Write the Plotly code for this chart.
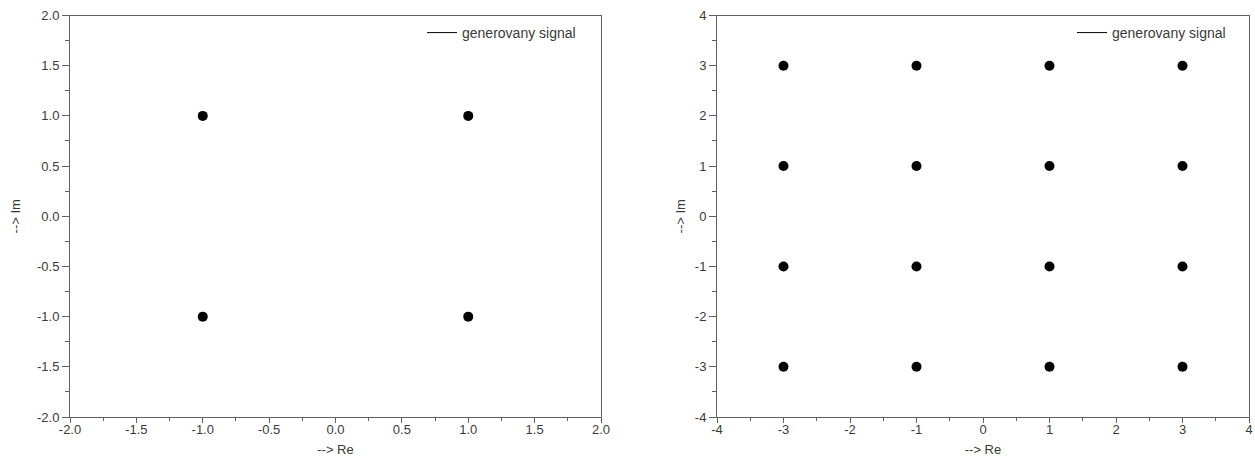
import plotly.graph_objects as go

# Data
qpsk_re = [-1, 1, -1, 1]
qpsk_im = [1, 1, -1, -1]
qam_re = [-3, -1, 1, 3, -3, -1, 1, 3, -3, -1, 1, 3, -3, -1, 1, 3]
qam_im = [3, 3, 3, 3, 1, 1, 1, 1, -1, -1, -1, -1, -3, -3, -3, -3]
ticks_left = [-2.0, -1.5, -1.0, -0.5, 0.0, 0.5, 1.0, 1.5, 2.0]
ticks_left_text = ["-2.0", "-1.5", "-1.0", "-0.5", "0.0", "0.5", "1.0", "1.5", "2.0"]
ticks_right = [-4, -3, -2, -1, 0, 1, 2, 3, 4]
ticks_right_text = ["-4", "-3", "-2", "-1", "0", "1", "2", "3", "4"]
legend_name = "generovany signal"
x_title = "--> Re"
y_title = "--> Im"

W, H = 1255, 462
fig = go.Figure()

# legend-only line traces
fig.add_trace(go.Scatter(x=[None], y=[None], mode="lines", name=legend_name,
                         line=dict(color="black", width=1), xaxis="x", yaxis="y",
                         legend="legend", showlegend=True))
fig.add_trace(go.Scatter(x=[None], y=[None], mode="lines", name=legend_name,
                         line=dict(color="black", width=1), xaxis="x2", yaxis="y2",
                         legend="legend2", showlegend=True))

fig.add_trace(go.Scatter(x=qpsk_re, y=qpsk_im, mode="markers",
                         marker=dict(color="black", size=10), showlegend=False,
                         xaxis="x", yaxis="y"))
fig.add_trace(go.Scatter(x=qam_re, y=qam_im, mode="markers",
                         marker=dict(color="black", size=10), showlegend=False,
                         xaxis="x2", yaxis="y2"))

axcol = "#606060"
FAM = "Liberation Sans, Arial, sans-serif"
fnt = dict(family=FAM, size=13, color="#3a3a3a")

y_dom = [1 - 417 / H, 1 - 15.5 / H]

def xaxis(dom, rng, tv, tt, mdt, anchor):
    return dict(domain=dom, range=rng, tickmode="array", tickvals=tv, ticktext=tt,
                showgrid=False, zeroline=False, showline=True, linecolor=axcol,
                linewidth=1, mirror=True, ticks="outside", ticklen=5, tickcolor=axcol,
                tickfont=fnt, anchor=anchor, automargin=False, ticklabelstandoff=-5,
                minor=dict(ticks="outside", ticklen=3, dtick=mdt, tick0=rng[0],
                           tickcolor=axcol, showgrid=False),
                title=dict(text=x_title, font=fnt, standoff=9))

def yaxis(rng, tv, tt, mdt, anchor, so):
    return dict(domain=y_dom, range=rng, tickmode="array", tickvals=tv, ticktext=tt,
                showgrid=False, zeroline=False, showline=True, linecolor=axcol,
                linewidth=1, mirror=True, ticks="outside", ticklen=7, tickcolor=axcol,
                tickfont=fnt, anchor=anchor, automargin=False,
                minor=dict(ticks="outside", ticklen=4, dtick=mdt, tick0=rng[0],
                           tickcolor=axcol, showgrid=False),
                title=dict(text=y_title, font=fnt, standoff=so))

lfont = dict(family=FAM, size=14, color="#3a3a3a")
fig.update_layout(
    width=W, height=H,
    margin=dict(l=0, r=0, t=0, b=0),
    paper_bgcolor="white", plot_bgcolor="white",
    xaxis=xaxis([70 / W, 601 / W], [-2, 2], ticks_left, ticks_left_text, 0.25, "y"),
    yaxis=yaxis([-2, 2], ticks_left, ticks_left_text, 0.25, "x", 13),
    xaxis2=xaxis([717 / W, 1249 / W], [-4, 4], ticks_right, ticks_right_text, 0.5, "y2"),
    yaxis2=yaxis([-4, 4], ticks_right, ticks_right_text, 0.5, "x2", 6),
    legend=dict(x=422 / W, y=1 - 17 / H, xanchor="left", yanchor="top",
                bgcolor="rgba(0,0,0,0)", font=lfont, itemwidth=30),
    legend2=dict(x=1072 / W, y=1 - 17 / H, xanchor="left", yanchor="top",
                 bgcolor="rgba(0,0,0,0)", font=lfont, itemwidth=30),
)

fig.write_html("out.html", config={"displayModeBar": False},
               post_script="document.body.style.margin='0';document.body.style.overflow='hidden';")
